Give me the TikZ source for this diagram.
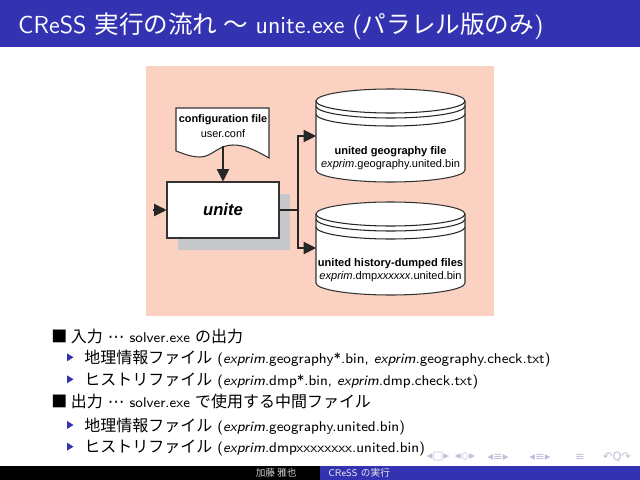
\documentclass[tikz,border=0pt]{standalone}
\usepackage{fontspec}
\newfontfamily\cjk{Noto Sans CJK JP}
\newfontfamily\arial{Liberation Sans}
\newfontfamily\symfont{DejaVu Sans}
\usetikzlibrary{arrows.meta,positioning}
\definecolor{barblue}{RGB}{51,51,178}
\definecolor{peach}{RGB}{251,209,193}
\definecolor{shadowgray}{RGB}{198,199,203}
\definecolor{navgray}{RGB}{190,190,220}
\newcommand{\jp}[1]{{\cjk\fontsize{9.1}{11}\selectfont #1}}
\newcommand{\mdots}{{\symfont\fontsize{9.5}{11}\selectfont ⋯}}

\begin{document}
\begin{tikzpicture}[x=0.02cm, y=-0.02cm,
    box/.style={draw=black!80, line width=0.6pt, fill=white},
    arr/.style={draw=black!85, line width=0.6pt, -{Triangle[length=7pt,width=7pt]}},
    wire/.style={draw=black!85, line width=0.6pt},
    diatext/.style={font=\arial\fontsize{6.3}{7.3}\selectfont, align=center},
    itemtext/.style={anchor=base west, inner sep=0pt, font=\sffamily\fontsize{8.1}{10}\selectfont},
    navsym/.style={text=navgray, font=\symfont\fontsize{6.5}{7}\selectfont, inner sep=0pt}]
        % slide 640 x 480, y pointing down
        \useasboundingbox (0,0) rectangle (640,480);
        \fill[white] (0,0) rectangle (640,480);

        % title bar
        \fill[barblue] (0,0) rectangle (640,47);
        \node[anchor=base west, text=white, font=\sffamily\fontsize{14}{16}\selectfont]
            (title) at (12,33) {CReSS {\cjk 実行の流れ 〜} unite.exe ({\cjk パラレル版のみ})};

        % picture of the flow
        \fill[peach] (146,66) rectangle (494,316);

        % configuration file (document shape)
        \draw[box] (176,108) -- (269,108) -- (269,158)
            .. controls (255,150) and (245,145) .. (233,145)
            .. controls (218,145) and (212,157) .. (200,157)
            .. controls (190,157) and (182,153) .. (176,151) -- cycle;
        \node[diatext, font=\arial\fontsize{6.2}{8.5}\selectfont] (conf) at (223,126)
            {\textbf{configuration file}\\user.conf};
        \coordinate (conf-bot) at (223,146);

        % unite with its shadow
        \fill[shadowgray] (178,194) rectangle (290,250);
        \node[box, minimum width=2.24cm, minimum height=1.12cm,
            font=\arial\bfseries\itshape\fontsize{9.5}{11}\selectfont] (unite) at (223,210) {unite};
        \coordinate (src) at (153,210);

        % cylinders
        \draw[box] (316,101) -- (316,170) arc[start angle=180, end angle=0, x radius=74.5, y radius=12]
            -- (465,101) arc[start angle=0, end angle=-180, x radius=74.5, y radius=12] -- cycle;
        \draw[wire] (316,101) arc[start angle=180, end angle=0, x radius=74.5, y radius=12];
        \draw[wire] (316,106) arc[start angle=180, end angle=0, x radius=74.5, y radius=12];
        \draw[wire] (316,114) arc[start angle=180, end angle=0, x radius=74.5, y radius=12];
        \node[diatext] (geo) at (390.5,158)
            {\textbf{united geography file}\\\textit{exprim}.geography.united.bin};
        \coordinate (geo-in) at (316,136);

        \draw[box] (316,214) -- (316,283) arc[start angle=180, end angle=0, x radius=74.5, y radius=12]
            -- (465,214) arc[start angle=0, end angle=-180, x radius=74.5, y radius=12] -- cycle;
        \draw[wire] (316,214) arc[start angle=180, end angle=0, x radius=74.5, y radius=12];
        \draw[wire] (316,219) arc[start angle=180, end angle=0, x radius=74.5, y radius=12];
        \draw[wire] (316,227) arc[start angle=180, end angle=0, x radius=74.5, y radius=12];
        \node[diatext] (hist) at (390.5,270)
            {\textbf{united history-dumped files}\\\textit{exprim}.dmp\textit{xxxxxx}.united.bin};
        \coordinate (hist-in) at (316,248);

        % connectors
        \coordinate (split) at (298,210);
        \draw[arr] (conf-bot) -- (unite.north);
        \draw[arr] (src) -- (unite.west);
        \draw[wire] (unite.east) -- (split);
        \draw[arr] (split) |- (geo-in);
        \draw[arr] (split) |- (hist-in);

        % items
        \node[itemtext] (in) at (51,342.7) {\jp{■ 入力} \mdots\ solver.exe \jp{の出力}};
        \node[itemtext] (in-geo) at (84,363.3)
            {\jp{地理情報ファイル} (\textit{exprim}.geography*.bin, \textit{exprim}.geography.check.txt)};
        \node[itemtext] (in-hist) at (84,385.3)
            {\jp{ヒストリファイル} (\textit{exprim}.dmp*.bin, \textit{exprim}.dmp.check.txt)};
        \node[itemtext] (out) at (51,407.7) {\jp{■ 出力} \mdots\ solver.exe \jp{で使用する中間ファイル}};
        \node[itemtext] (out-geo) at (84,431)
            {\jp{地理情報ファイル} (\textit{exprim}.geography.united.bin)};
        \node[itemtext] (out-hist) at (84,452.7)
            {\jp{ヒストリファイル} (\textit{exprim}.dmpxxxxxxxx.united.bin)};
        \foreach \y in {357.3,379.3,425,446.7}
            \fill[barblue] (67,\y-4) -- (73.5,\y) -- (67,\y+4) -- cycle;

        % navigation symbols
        \node[navsym] (nav1) at (438,457) {◂□▸};
        \node[navsym] (nav2) at (465,457) {◂◇▸};
        \node[navsym] (nav3) at (498,457) {◂≡▸};
        \node[navsym] (nav4) at (540,457) {◂≡▸};
        \node[navsym] (nav5) at (580,457) {≡};
        \node[navsym] (nav6) at (617,457) {↶Q↷};

        % footline
        \fill[black] (0,466) rectangle (320,480);
        \fill[barblue] (320,466) rectangle (640,480);
        \node[anchor=base east, inner sep=0pt, text=black!20, font=\cjk\fontsize{5.5}{7}\selectfont]
            (author) at (297,476) {加藤 雅也};
        \node[anchor=base west, inner sep=0pt, text=black!8, font=\sffamily\fontsize{5.5}{7}\selectfont]
            (short) at (328,476) {CReSS {\cjk の実行}};
\end{tikzpicture}
\end{document}
